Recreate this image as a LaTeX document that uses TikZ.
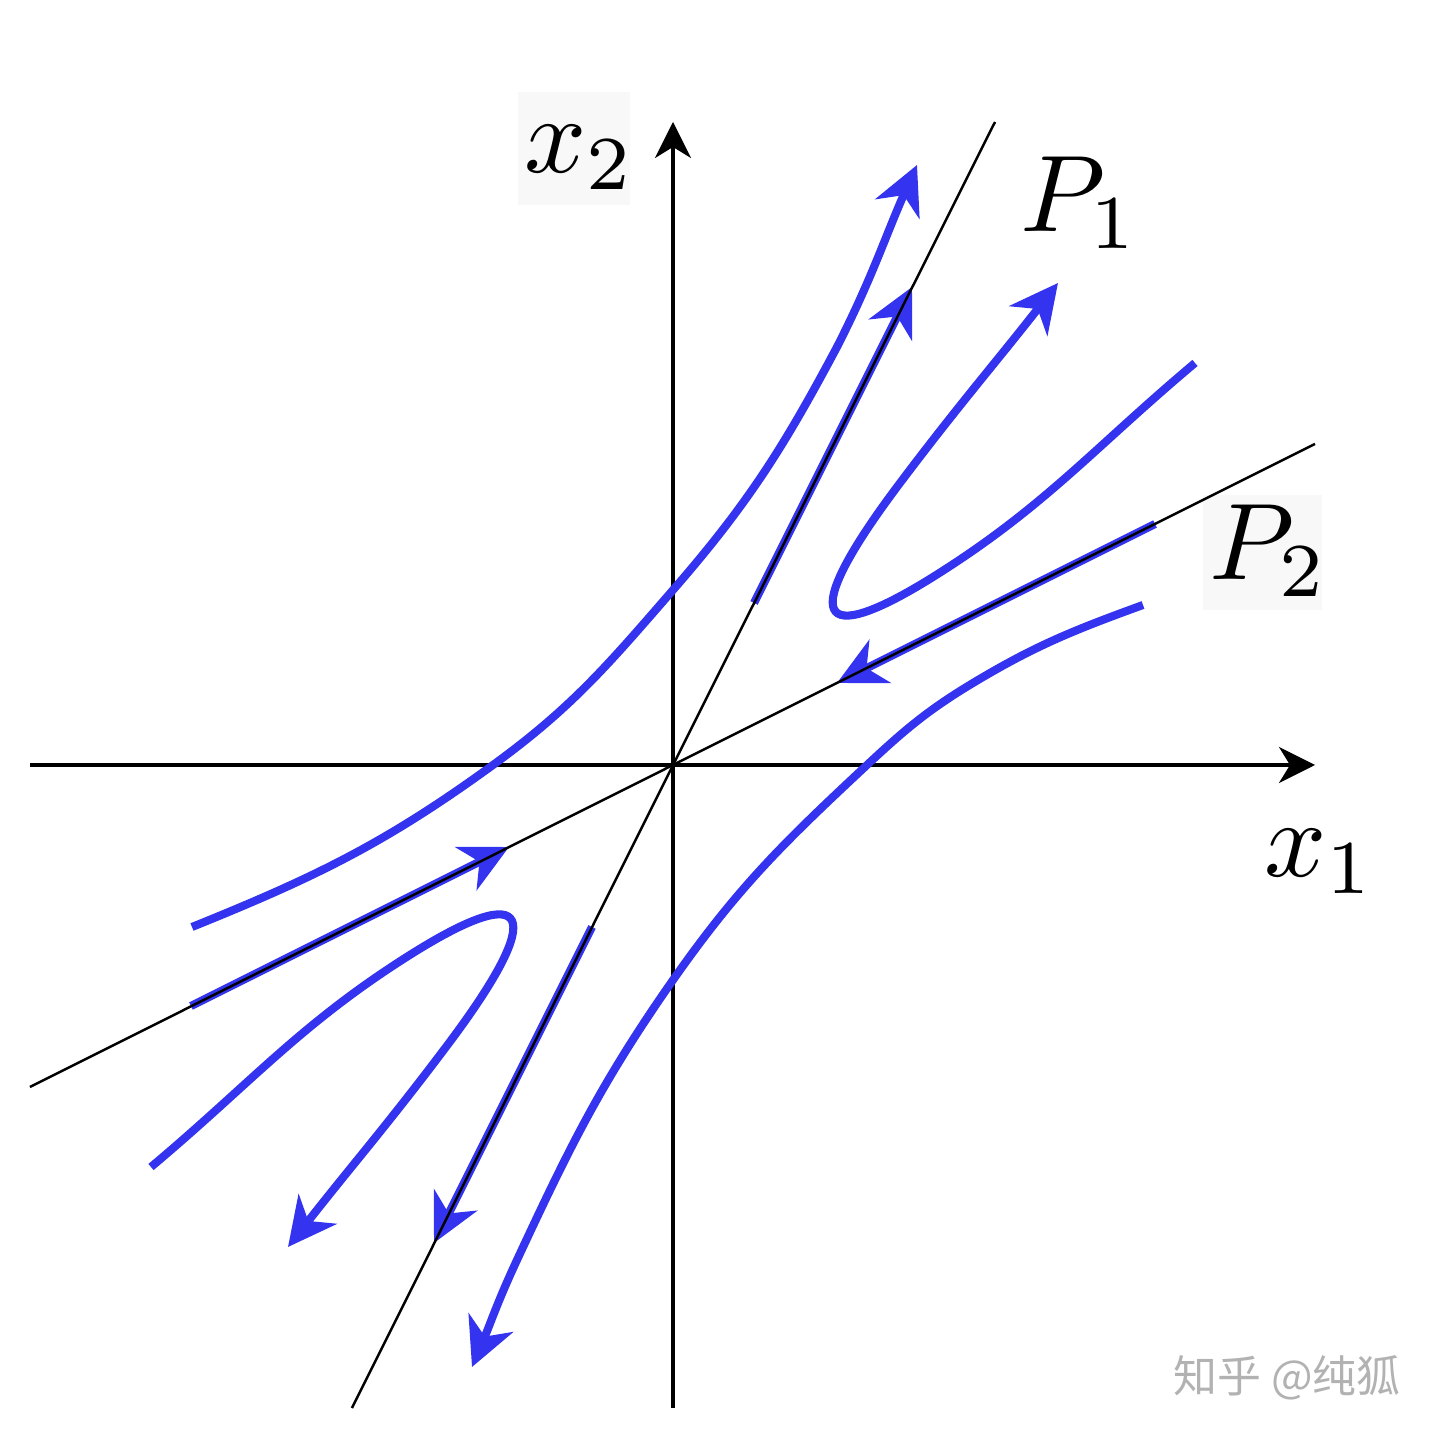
\documentclass[tikz,border=0pt]{standalone}
\usepackage[no-math]{fontspec}
\usetikzlibrary{arrows.meta}
\newfontfamily\cjk{Noto Sans CJK SC}
\definecolor{flowblue}{RGB}{51,51,240}
\definecolor{shadebg}{RGB}{248,248,248}

\begin{document}
\begin{tikzpicture}[
  axis/.style={line width=1.1pt, -{Stealth[length=3.6mm, width=3.6mm, inset=1.1mm]}},
  eigline/.style={line width=0.7pt},
  flow/.style={flowblue, line width=2.3pt, -{Stealth[length=4.8mm, width=4.8mm, inset=1.5mm]}},
  lbl/.style={inner sep=0pt, anchor=base west, scale=3.1},
]
\useasboundingbox (-6.73,-6.71) rectangle (7.63,7.65);

\def\ax{6.43}
\coordinate (O) at (0,0);

% faint label backgrounds
\fill[shadebg] (-1.55,5.60) rectangle (-0.43,6.73);
\fill[shadebg] (5.30,1.55) rectangle (6.49,2.70);

% axes
\draw[axis] (-\ax,0) -- (6.42,0) coordinate (xend);
\draw[axis] (0,-\ax) -- (0,\ax) coordinate (yend);

% trajectories
\draw[flow] (-4.81,-1.62) to[out=22,in=216] (-1.80,0) to[out=36,in=229] (0,1.75)
  to[out=49,in=242] (1.64,4.18) to[out=63,in=246] (2.44,6.00);
\draw[flow] (4.70,1.60) to[out=200,in=31] (3.00,0.82) to[out=211,in=43] (1.94,0)
  to[out=223,in=55] (0,-2.15) to[out=235,in=65] (-1.56,-4.95) to[out=245,in=67] (-2.01,-6.02);
\draw[flow] (5.22,4.02) to[out=220,in=32] (2.60,1.88)
  .. controls (1.455,1.165) and (1.216,1.422) .. (2.27,2.82) to[out=53,in=232] (3.85,4.82);
\draw[flow] (-5.22,-4.02) to[out=40,in=212] (-2.60,-1.88)
  .. controls (-1.455,-1.165) and (-1.216,-1.422) .. (-2.27,-2.82) to[out=233,in=52] (-3.85,-4.82);

% flow along the eigenvectors
\draw[flow] (0.81,1.62) -- (2.39,4.78);
\draw[flow] (-0.81,-1.62) -- (-2.39,-4.78);
\draw[flow] (4.82,2.41) -- (1.64,0.82);
\draw[flow] (-4.82,-2.41) -- (-1.64,-0.82);

% eigenvector lines
\draw[eigline] (-3.21,-6.43) coordinate (p1a) -- (O) -- (3.22,6.43) coordinate (p1b);
\draw[eigline] (-6.43,-3.22) coordinate (p2a) -- (O) -- (6.42,3.21) coordinate (p2b);

% labels
\node[lbl] (xone) at (5.89,-1.12) {$x_1$};
\node[lbl] (xtwo) at (-1.51,5.92) {$x_2$};
\node[lbl] (pone) at (3.45,5.33) {$P_1$};
\node[lbl] (ptwo) at (5.34,1.85) {$P_2$};

\node[text=black!30, font=\cjk\fontsize{12.5}{14}\selectfont] (mark) at (6.14,-6.13) {知乎 @纯狐};
\end{tikzpicture}
\end{document}
